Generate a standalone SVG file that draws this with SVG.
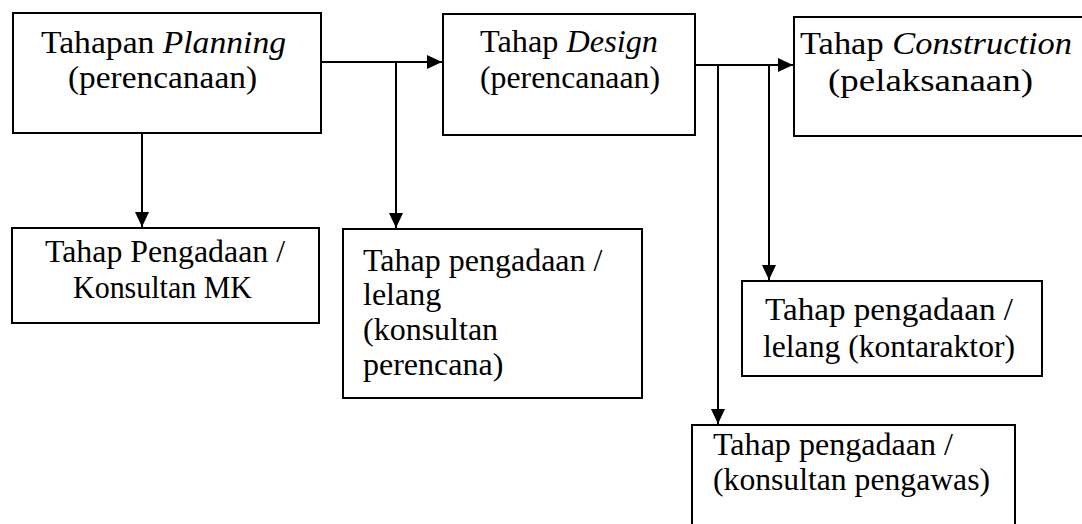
<svg xmlns="http://www.w3.org/2000/svg" width="1082" height="524" viewBox="0 0 1082 524">
<style>
  .box{fill:#fff;stroke:#000;stroke-width:2}
  .t{font-family:"Liberation Serif",Tinos,"Noto Serif","DejaVu Serif","Times New Roman",Times,serif;font-size:32px;fill:#000}
  .i{font-style:italic}
  .c{fill:none;stroke:#000;stroke-width:2}
</style>
<defs>
  <marker id="ah" markerUnits="userSpaceOnUse" markerWidth="16" markerHeight="15" refX="15" refY="7" orient="auto">
    <path d="M0,0 L15,7 L0,14 Z" fill="#000"/>
  </marker>
</defs>
<rect width="1082" height="524" fill="#fff"/>
<g id="connectors">
  <polyline class="c" points="321,62 442,62" marker-end="url(#ah)"/>
  <polyline class="c" points="396,62 396,228" marker-end="url(#ah)"/>
  <polyline class="c" points="142,133 142,227" marker-end="url(#ah)"/>
  <polyline class="c" points="695,65 793,65" marker-end="url(#ah)"/>
  <polyline class="c" points="718,65 718,424" marker-end="url(#ah)"/>
  <polyline class="c" points="769,65 769,280" marker-end="url(#ah)"/>
</g>
<g id="planning">
  <rect class="box" x="13" y="13" width="308" height="120"/>
  <text class="t" x="41" y="53" font-size="33" textLength="245" lengthAdjust="spacingAndGlyphs">Tahapan <tspan class="i">Planning</tspan></text>
  <text class="t" x="68" y="88" font-size="33" textLength="189" lengthAdjust="spacingAndGlyphs">(perencanaan)</text>
</g>
<g id="design">
  <rect class="box" x="443" y="14" width="252" height="121"/>
  <text class="t" x="480" y="52" textLength="178" lengthAdjust="spacingAndGlyphs">Tahap <tspan class="i">Design</tspan></text>
  <text class="t" x="480" y="88" textLength="180" lengthAdjust="spacingAndGlyphs">(perencanaan)</text>
</g>
<g id="construction">
  <rect class="box" x="794" y="17" width="300" height="119"/>
  <text class="t" x="800" y="54" font-size="33" textLength="272" lengthAdjust="spacingAndGlyphs">Tahap <tspan class="i">Construction</tspan></text>
  <text class="t" x="828" y="91" font-size="33" textLength="205" lengthAdjust="spacingAndGlyphs">(pelaksanaan)</text>
</g>
<g id="pengadaan-mk">
  <rect class="box" x="12" y="228" width="307" height="95"/>
  <text class="t" x="45" y="262" textLength="240" lengthAdjust="spacingAndGlyphs">Tahap Pengadaan /</text>
  <text class="t" x="73" y="298" textLength="179" lengthAdjust="spacingAndGlyphs">Konsultan MK</text>
</g>
<g id="pengadaan-perencana">
  <rect class="box" x="343" y="229" width="299" height="169"/>
  <text class="t" x="363" y="271">Tahap pengadaan /</text>
  <text class="t" x="363" y="305">lelang</text>
  <text class="t" x="363" y="340">(konsultan</text>
  <text class="t" x="363" y="375">perencana)</text>
</g>
<g id="pengadaan-kontraktor">
  <rect class="box" x="742" y="281" width="300" height="95"/>
  <text class="t" x="765" y="320" textLength="248" lengthAdjust="spacingAndGlyphs">Tahap pengadaan /</text>
  <text class="t" x="763" y="357" textLength="252" lengthAdjust="spacingAndGlyphs">lelang (kontaraktor)</text>
</g>
<g id="pengadaan-pengawas">
  <rect class="box" x="692" y="425" width="323" height="110"/>
  <text class="t" x="713" y="455" textLength="240" lengthAdjust="spacingAndGlyphs">Tahap pengadaan /</text>
  <text class="t" x="713" y="490" textLength="277" lengthAdjust="spacingAndGlyphs">(konsultan pengawas)</text>
</g>
</svg>
